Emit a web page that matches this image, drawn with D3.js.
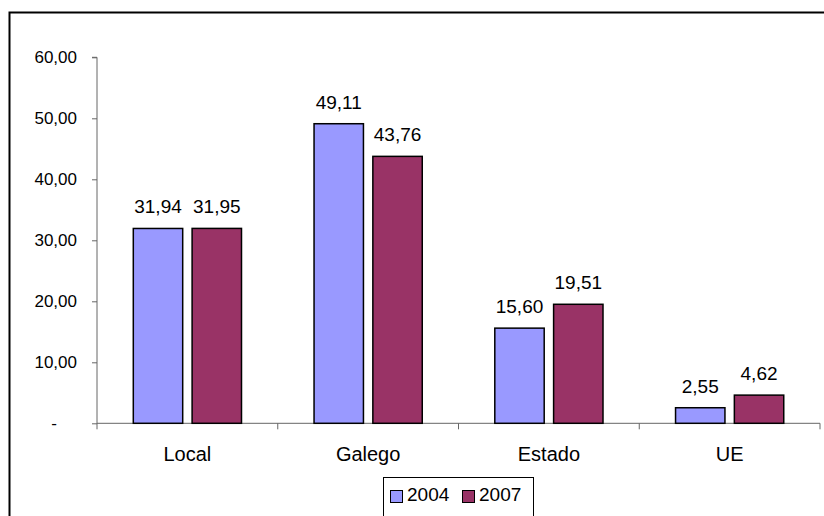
<!DOCTYPE html>
<html>
<head>
<meta charset="utf-8">
<script src="https://cdn.jsdelivr.net/npm/d3@7"></script>
<style>
  html, body { margin: 0; padding: 0; background: #fff; }
  svg { display: block; font-family: "Liberation Sans", Arial, sans-serif; }
</style>
</head>
<body>
<svg id="chart" width="824" height="516"></svg>
<script>
// Categories, series and values
const categories = ["Local", "Galego", "Estado", "UE"];
const seriesNames = ["2004", "2007"];
const values2004 = [31.94, 49.11, 15.60, 2.55];
const values2007 = [31.95, 43.76, 19.51, 4.62];
const yTicks = [0, 10, 20, 30, 40, 50, 60];
const yTickLabels = ["-", "10,00", "20,00", "30,00", "40,00", "50,00", "60,00"];
const colors = ["#9999FF", "#993366"];

const seriesValues = [values2004, values2007];
const fmt = v => v.toFixed(2).replace(".", ",");

const svg = d3.select("#chart");

// Outer frame
svg.append("rect")
  .attr("x", 9.5).attr("y", 12.5)
  .attr("width", 830).attr("height", 520)
  .attr("fill", "#fff")
  .attr("stroke", "#000").attr("stroke-width", 2);

const plot = { left: 97, right: 820, top: 57.3, bottom: 423.3 };

const x = d3.scaleBand().domain(categories).range([plot.left, plot.right]).padding(0);
const xInner = d3.scaleBand().domain(seriesNames)
  .range([36.3, 144.5]).paddingInner(0.16).paddingOuter(0);
const y = d3.scaleLinear().domain([0, 60]).range([plot.bottom, plot.top]);

// Y axis
const yAxis = d3.axisLeft(y)
  .tickValues(yTicks)
  .tickSize(5)
  .tickPadding(15)
  .tickFormat((d, i) => yTickLabels[i]);
const gy = svg.append("g").attr("transform", `translate(${plot.left},0)`).call(yAxis);
gy.select(".domain").attr("stroke", "#666").attr("d", `M-5,${plot.top}H0V${plot.bottom + 6}`);
gy.selectAll(".tick line").attr("stroke", "#666");
gy.selectAll(".tick text")
  .attr("fill", "#000")
  .style("font-size", "17px")
  .attr("dx", d => d === 0 ? -20 : 0);

// X axis (category boundaries ticked)
const gx = svg.append("g").attr("transform", `translate(0,${plot.bottom})`);
gx.append("line")
  .attr("x1", plot.left).attr("x2", plot.right)
  .attr("stroke", "#666");
const boundaries = categories.map(c => x(c) + x.bandwidth());
gx.selectAll("line.tick").data(boundaries).join("line")
  .attr("class", "tick")
  .attr("x1", d => d).attr("x2", d => d)
  .attr("y1", 0).attr("y2", 6)
  .attr("stroke", "#666");
gx.selectAll("text.cat").data(categories).join("text")
  .attr("class", "cat")
  .attr("x", d => x(d) + x.bandwidth() / 2)
  .attr("y", 37.5)
  .attr("text-anchor", "middle")
  .style("font-size", "20px")
  .text(d => d);

// Bars and value labels
const barData = [];
categories.forEach((c, ci) => {
  seriesNames.forEach((s, si) => {
    barData.push({ cat: c, series: s, si, value: seriesValues[si][ci] });
  });
});

svg.append("g").selectAll("rect").data(barData).join("rect")
  .attr("x", d => x(d.cat) + xInner(d.series))
  .attr("y", d => y(d.value))
  .attr("width", xInner.bandwidth())
  .attr("height", d => y(0) - y(d.value))
  .attr("fill", d => colors[d.si])
  .attr("stroke", "#000")
  .attr("stroke-width", 1.5);

svg.append("g").selectAll("text").data(barData).join("text")
  .attr("x", d => x(d.cat) + xInner(d.series) + xInner.bandwidth() / 2)
  .attr("y", d => y(d.value) - 15)
  .attr("text-anchor", "middle")
  .style("font-size", "19px")
  .text(d => fmt(d.value));

// Legend
const legend = svg.append("g");
legend.append("rect")
  .attr("x", 383.5).attr("y", 477.5)
  .attr("width", 150).attr("height", 60)
  .attr("fill", "#fff").attr("stroke", "#000").attr("stroke-width", 1);
const items = legend.selectAll("g.item").data(seriesNames).join("g")
  .attr("class", "item")
  .attr("transform", (d, i) => `translate(${390 + i * 72},0)`);
items.append("rect")
  .attr("x", 0.5).attr("y", 490.5)
  .attr("width", 12).attr("height", 12)
  .attr("fill", (d, i) => colors[i])
  .attr("stroke", "#000").attr("stroke-width", 1);
items.append("text")
  .attr("x", 17).attr("y", 501)
  .style("font-size", "19px")
  .text(d => d);
</script>
</body>
</html>
